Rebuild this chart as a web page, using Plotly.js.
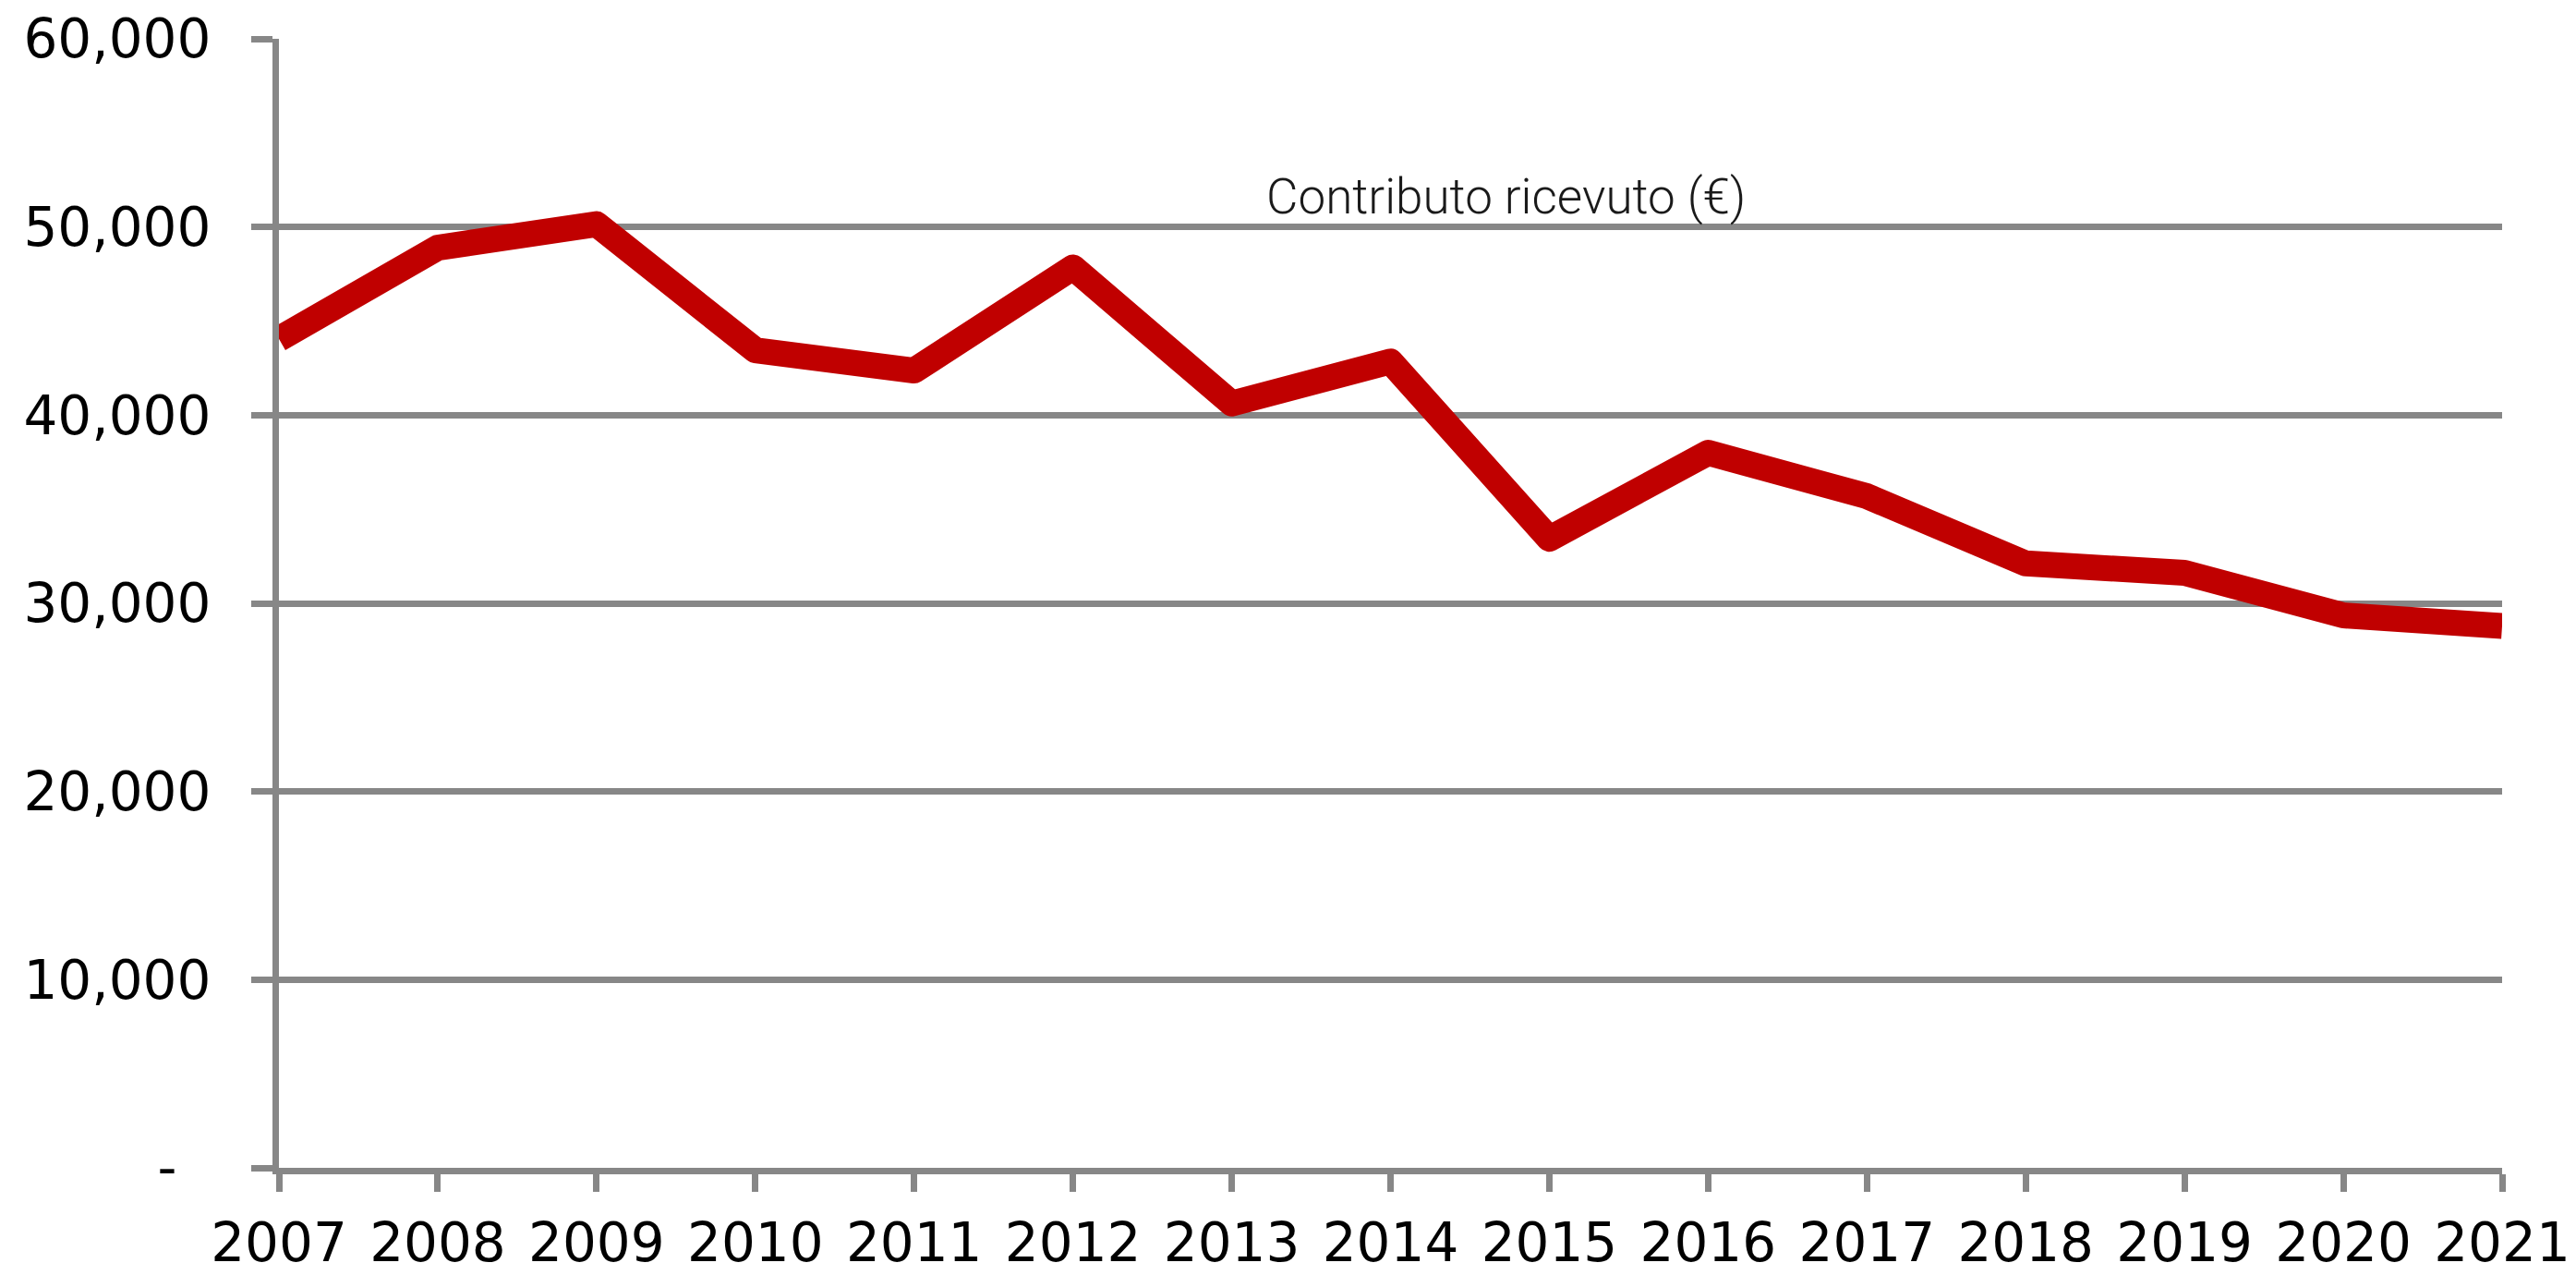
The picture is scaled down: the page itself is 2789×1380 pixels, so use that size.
<!DOCTYPE html>
<html>
<head>
<meta charset="utf-8">
<script src="https://cdn.plot.ly/plotly-3.0.1.min.js"></script>
<style>
  html, body { margin: 0; padding: 0; background: #fff; }
  #chart { width: 2789px; height: 1380px; }
  #chart .js-line { stroke-linejoin: round; }
</style>
</head>
<body>
<div id="chart"></div>
<script>
// Contributo ricevuto per anno
const years = [2007, 2008, 2009, 2010, 2011, 2012, 2013, 2014, 2015, 2016, 2017, 2018, 2019, 2020, 2021];
const contributo = [44050, 48900, 50150, 43450, 42370, 47850, 40620, 42850, 33430, 38000, 35690, 32120, 31620, 29360, 28800];

const yTickVals = [0, 10000, 20000, 30000, 40000, 50000, 60000];
const yTickText = ['-\u00a0\u00a0', '10,000', '20,000', '30,000', '40,000', '50,000', '60,000'];

const gridColor = '#878787';

const trace = {
  x: years,
  y: contributo,
  type: 'scatter',
  mode: 'lines',
  line: { color: '#c00000', width: 28 },
  hoverinfo: 'x+y'
};

const layout = {
  width: 2789,
  height: 1380,
  margin: { l: 302, r: 80, t: 42, b: 116 },
  paper_bgcolor: '#ffffff',
  plot_bgcolor: '#ffffff',
  showlegend: false,
  font: { family: 'DejaVu Sans, Verdana, sans-serif', size: 58, color: '#000' },
  xaxis: {
    type: 'linear',
    range: [2007, 2021],
    tickvals: years,
    ticktext: years.map(String),
    showgrid: false,
    zeroline: false,
    showline: true,
    linecolor: gridColor,
    linewidth: 7,
    ticks: 'outside',
    ticklen: 19,
    tickwidth: 7,
    tickcolor: gridColor,
    ticklabelstandoff: 5,
    layer: 'below traces'
  },
  yaxis: {
    range: [0, 60000],
    tickvals: yTickVals,
    ticktext: yTickText,
    showgrid: true,
    gridcolor: gridColor,
    gridwidth: 7,
    zeroline: false,
    showline: true,
    linecolor: gridColor,
    linewidth: 7,
    ticks: 'outside',
    ticklen: 23,
    tickwidth: 7,
    tickcolor: gridColor,
    ticklabelstandoff: 32,
    layer: 'below traces'
  },
  annotations: [{
    xref: 'paper',
    yref: 'paper',
    x: 0.552,
    y: 0.86,
    xanchor: 'center',
    yanchor: 'middle',
    text: 'Contributo ricevuto (€)',
    showarrow: false,
    font: { family: 'Roboto, sans-serif', weight: 300, size: 53, color: '#1a1a1a' }
  }]
};

const config = {
  responsive: false,
  displayModeBar: false,
  staticPlot: true
};

Plotly.newPlot('chart', [trace], layout, config);
</script>
</body>
</html>
